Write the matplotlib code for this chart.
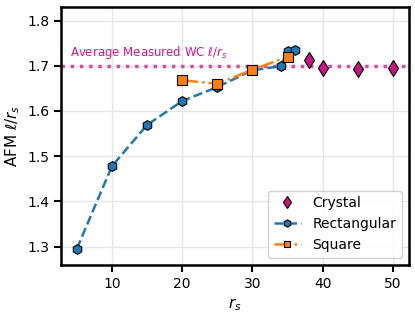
import matplotlib
matplotlib.use("Agg")
import matplotlib.pyplot as plt

crystal_rs = [38, 40, 45, 50]
crystal_val = [1.712, 1.696, 1.693, 1.696]
rect_rs = [5, 10, 15, 20, 25, 30, 34, 35, 36]
rect_val = [1.295, 1.478, 1.569, 1.622, 1.653, 1.690, 1.699, 1.733, 1.735]
square_rs = [20, 25, 30, 35]
square_val = [1.668, 1.660, 1.691, 1.720]
avg_wc = 1.70

fig, ax = plt.subplots(figsize=(4.15, 3.17), dpi=100)
ax.grid(True, color='#e6e6e6', linewidth=1.0, zorder=0)
ax.set_axisbelow(True)

ax.axhline(avg_wc, color='#d94aa8', linestyle=':', linewidth=2.5, zorder=1)
ax.text(4.0, avg_wc + 0.01, r'Average Measured WC $\ell/r_s$', color='#d0198a', fontsize=8.5, va='bottom', ha='left')

ax.plot(crystal_rs, crystal_val, linestyle='none', marker='d', markersize=8.5, color='#c71585',
        markeredgecolor='black', markeredgewidth=0.8, label='Crystal', zorder=3)
ax.plot(rect_rs, rect_val, linestyle='--', marker='h', markersize=7, color='#1f77b4',
        markeredgecolor='black', markeredgewidth=0.8, linewidth=1.8, label='Rectangular', zorder=3)
ax.plot(square_rs, square_val, linestyle='-.', marker='s', markersize=6.5, color='#ff7f0e',
        markeredgecolor='black', markeredgewidth=0.8, linewidth=1.8, label='Square', zorder=4)

ax.set_ylim(1.26, 1.83)
ax.set_xticks([10, 20, 30, 40, 50])
ax.set_yticks([1.3, 1.4, 1.5, 1.6, 1.7, 1.8])
ax.tick_params(labelsize=10, width=1.5, length=5)
for s in ax.spines.values():
    s.set_linewidth(1.8)
    s.set_color('black')
ax.set_xlabel(r'$r_s$', fontsize=11)
ax.set_ylabel(r'AFM $\ell/r_s$', fontsize=11)
ax.legend(loc='lower right', fontsize=10, framealpha=0.9, edgecolor='#cccccc', markerscale=0.75)

fig.subplots_adjust(left=0.147, right=0.985, top=0.978, bottom=0.165)
fig.savefig('out.png', dpi=100)
